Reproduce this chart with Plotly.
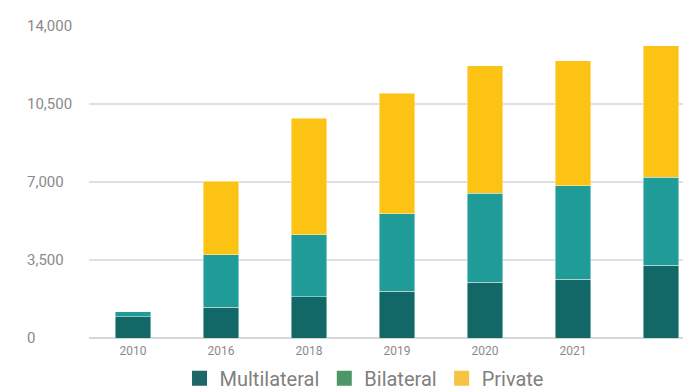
import plotly.graph_objects as go

categories = ["2010", "2016", "2018", "2019", "2020", "2021", " "]
multilateral = [956, 1391, 1840, 2109, 2499, 2647, 3261]
bilateral = [211, 2347, 2796, 3469, 4007, 4174, 3963]
private = [0, 3307, 5236, 5401, 5713, 5622, 5879]
y_ticks = [0, 3500, 7000, 10500, 14000]
y_tick_labels = ["0", "3,500", "7,000", "10,500", "14,000"]

series = [
    ("Multilateral", multilateral, "#126767", "#1E6668"),
    ("Bilateral", bilateral, "#1F9B98", "#4E9568"),
    ("Private", private, "#FCC214", "#F6C342"),
]

fig = go.Figure()
for name, vals, bar_col, leg_col in series:
    fig.add_trace(go.Bar(
        x=categories, y=vals, name=name, showlegend=False,
        marker=dict(color=bar_col, line=dict(color="rgba(255,255,255,0.55)", width=0.8)),
        width=0.4,
    ))
for name, vals, bar_col, leg_col in series:
    fig.add_trace(go.Scatter(
        x=[None], y=[None], mode="markers", name=name,
        marker=dict(symbol="square", size=15, color=leg_col),
    ))

for v, t in zip(y_ticks, y_tick_labels):
    fig.add_annotation(
        x=-0.1077, xref="paper", y=v, yref="y", text=t, showarrow=False,
        xanchor="left", yanchor="middle",
        font=dict(family="Roboto", size=15, color="#8a8a8a"),
    )

fig.update_layout(
    width=683, height=388,
    margin=dict(l=89, r=0, t=26, b=50),
    paper_bgcolor="white", plot_bgcolor="white",
    barmode="stack",
    font=dict(family="Roboto", color="#808080"),
    xaxis=dict(
        type="category", range=[-0.5, 6.25], showgrid=False,
        tickfont=dict(family="Roboto", size=12, color="#8a8a8a"),
        ticks="", showline=False, ticklabelstandoff=4,
    ),
    yaxis=dict(
        range=[0, 14000], tickvals=y_ticks, showticklabels=False,
        gridcolor="#e0e0e0", gridwidth=2,
        zeroline=True, zerolinecolor="#d6d6d6", zerolinewidth=2,
    ),
    legend=dict(
        orientation="h", xref="paper", yref="container", traceorder="normal",
        x=0.463, xanchor="center", y=0.025, yanchor="middle",
        font=dict(family="Roboto", size=20, color="#808080"),
        bgcolor="rgba(0,0,0,0)",
    ),
)

fig.write_html("out.html")
